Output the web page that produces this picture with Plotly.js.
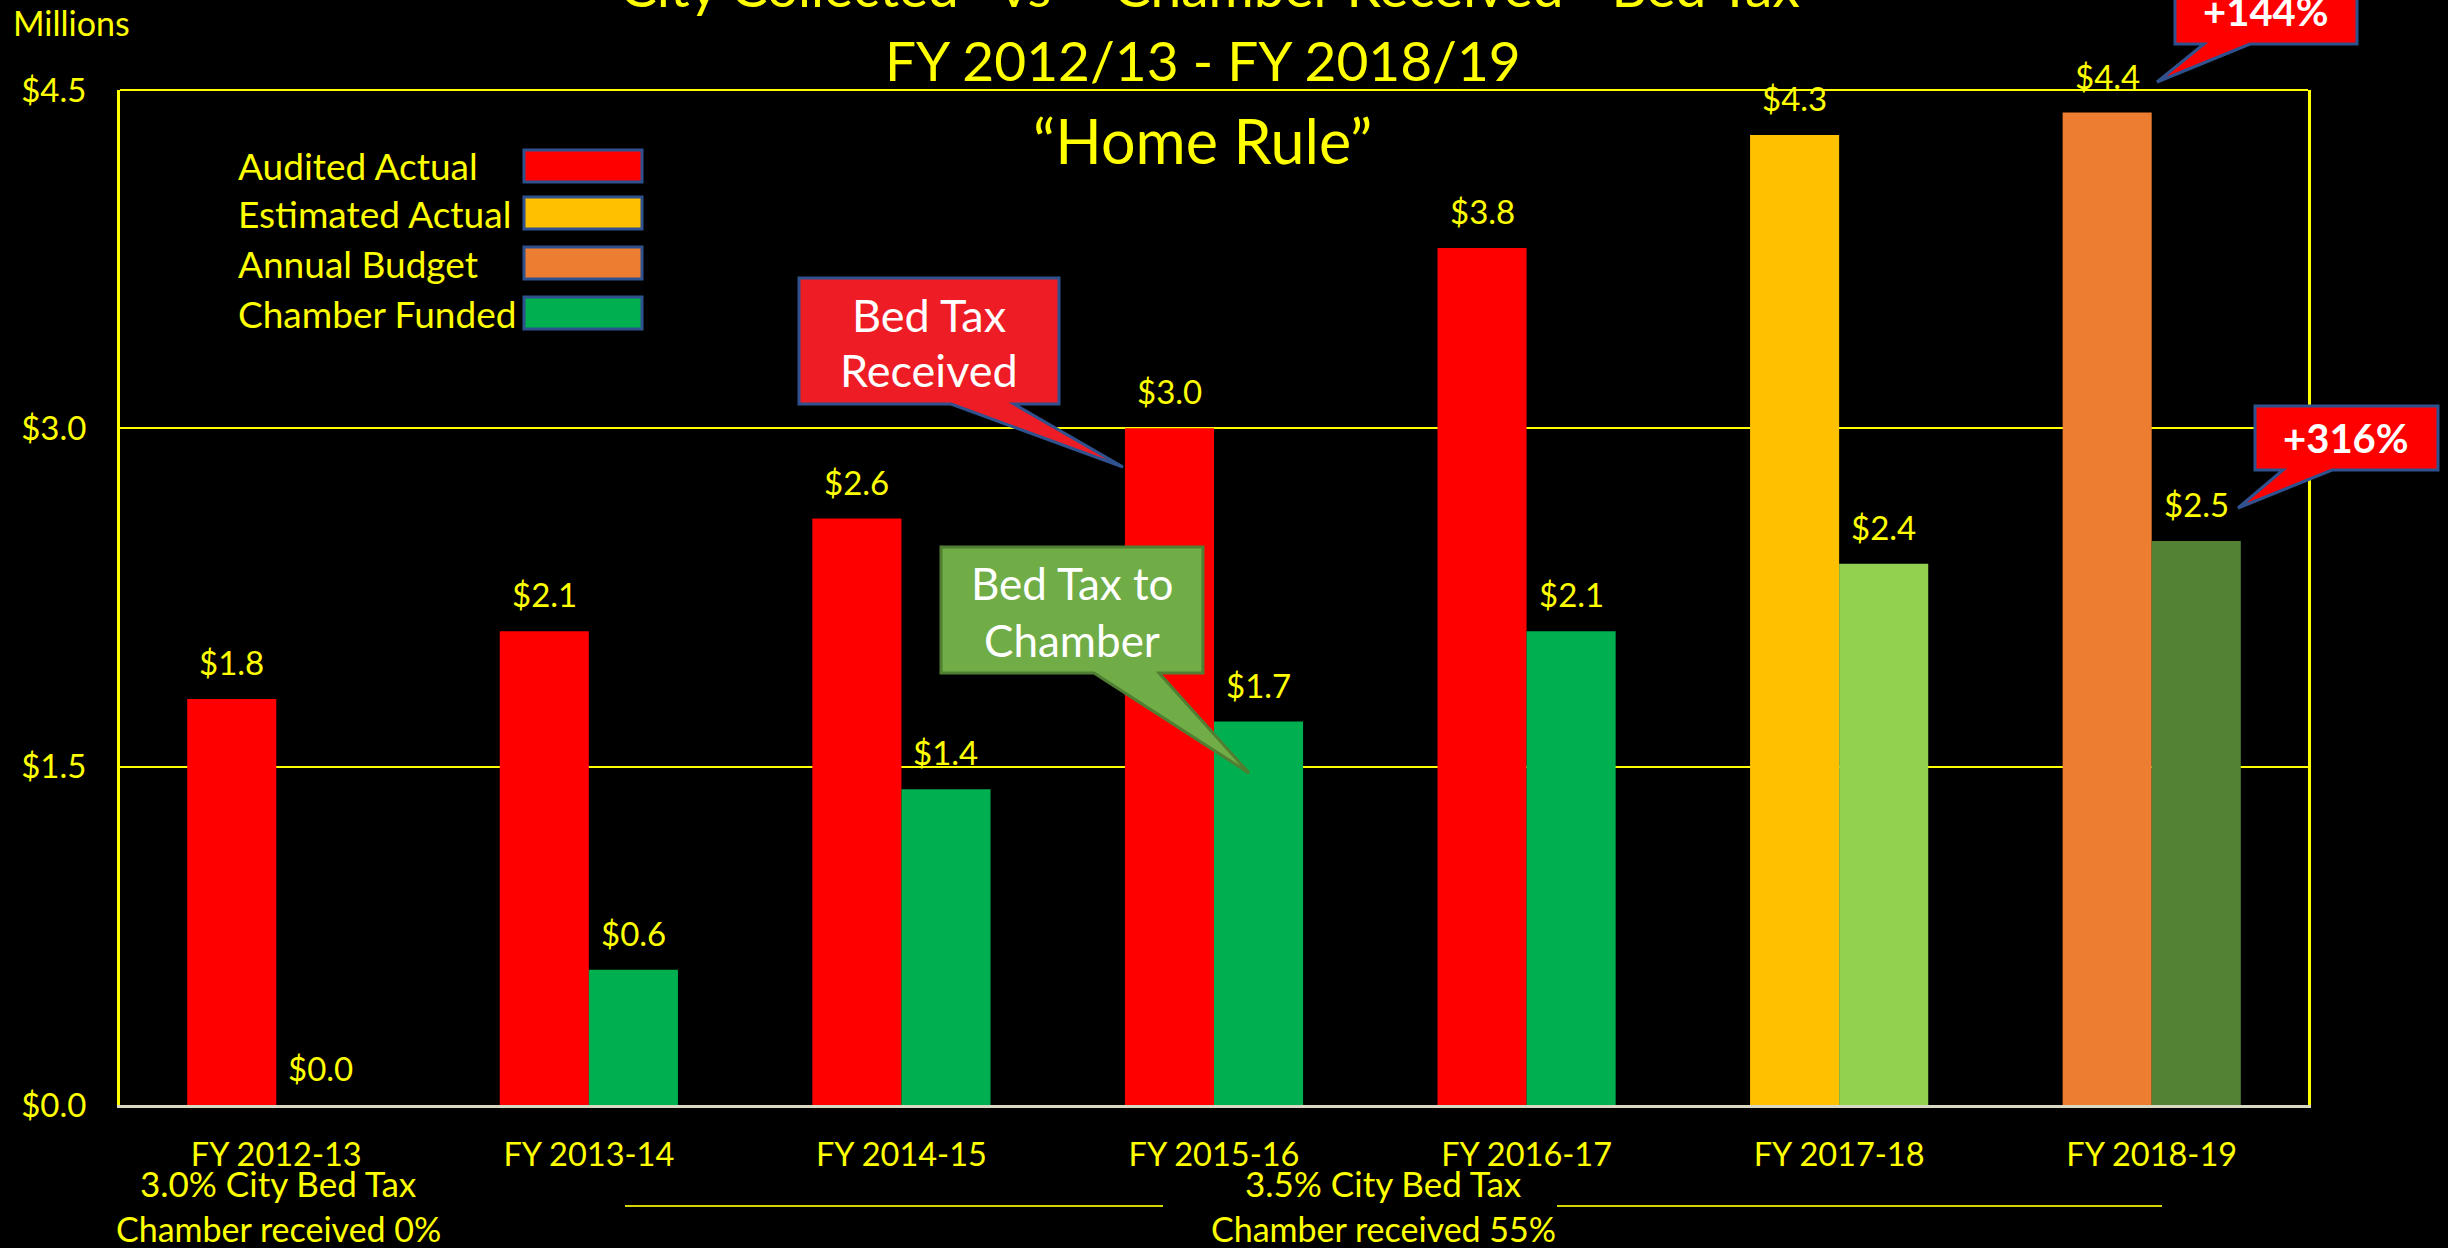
<!DOCTYPE html>
<html>
<head>
<meta charset="utf-8">
<script src="https://cdn.plot.ly/plotly-3.0.1.min.js"></script>
<style>html,body{margin:0;padding:0;background:#000;}#chart{width:2448px;height:1248px;}</style>
</head>
<body>
<div id="chart"></div>
<script>
// ---- data ----
const categories = ["FY 2012-13","FY 2013-14","FY 2014-15","FY 2015-16","FY 2016-17","FY 2017-18","FY 2018-19"];
const bedTaxReceived = [1.8, 2.1, 2.6, 3.0, 3.8, 4.3, 4.4];
const chamberFunded  = [0.0, 0.6, 1.4, 1.7, 2.1, 2.4, 2.5];
const receivedColors = ["#FF0000","#FF0000","#FF0000","#FF0000","#FF0000","#FFC000","#ED7D31"];
const chamberColors  = ["#00B050","#00B050","#00B050","#00B050","#00B050","#92D050","#548235"];
const yTickVals = [0, 1.5, 3.0, 4.5];
const yTickText = ["$0.0","$1.5","$3.0","$4.5"];
const legendNames = ["Audited Actual","Estimated Actual","Annual Budget","Chamber Funded"];
const legendColors = ["#FF0000","#FFC000","#ED7D31","#00B050"];
const titleLine1 = "City Collected   vs   \u201cChamber Received\u201d  Bed Tax";
const titleLine2 = "FY 2012/13 - FY 2018/19";
const subTitle = "\u201cHome Rule\u201d";

// ---- layout helpers (pixel -> paper) ----
const L = 120, R = 2308, T = 90, B = 1105;
const fx = x => (x - L) / (R - L);
const fy = y => (B - y) / (B - T);
const pathPx = pts => 'M' + pts.map(p => fx(p[0]).toFixed(5) + ',' + fy(p[1]).toFixed(5)).join(' L') + ' Z';

const FONT = "Lato, 'Open Sans', sans-serif";
const YEL = "#FFFF00";

const traces = [
  {type:'bar', name:'Bed Tax Received', x:categories, y:bedTaxReceived,
   marker:{color:receivedColors, line:{width:0}}, hoverinfo:'x+y'},
  {type:'bar', name:'Chamber Funded', x:categories, y:chamberFunded,
   marker:{color:chamberColors, line:{width:0}}, hoverinfo:'x+y'}
];

const annotations = [];
const shapes = [];
const BARW = 89;
// data labels
bedTaxReceived.forEach((v,i)=>annotations.push({x:categories[i], y:v, xref:'x', yref:'y', xshift:-BARW/2, yshift:37,
  text:'$'+v.toFixed(1), showarrow:false, font:{family:FONT, size:33, color:YEL}, xanchor:'center', yanchor:'middle'}));
chamberFunded.forEach((v,i)=>annotations.push({x:categories[i], y:v, xref:'x', yref:'y', xshift:BARW/2, yshift:37,
  text:'$'+v.toFixed(1), showarrow:false, font:{family:FONT, size:33, color:YEL}, xanchor:'center', yanchor:'middle'}));

function txt(text, X, Y, size, opts={}) {
  annotations.push(Object.assign({xref:'paper', yref:'paper', x:fx(X), y:fy(Y), text:text, showarrow:false,
    xanchor:'center', yanchor:'middle', font:{family:FONT, size:size, color:YEL}}, opts));
}
// titles
txt(titleLine1, 1210, -14, 55);
txt(titleLine2, 1203, 60, 55);
txt(subTitle, 1202, 140, 61);
txt("Millions", 11, 22, 34, {xanchor:'left'});

// legend
const legRows = [166, 213, 263, 313];
legendNames.forEach((n,i)=>{
  txt(n, 236, legRows[i], 37, {xanchor:'left'});
  shapes.push({type:'rect', xref:'paper', yref:'paper', x0:fx(524), x1:fx(642), y0:fy(legRows[i]-16), y1:fy(legRows[i]+16),
    fillcolor:legendColors[i], line:{color:'#2F528F', width:3}});
});

// bottom notes
txt("3.0% City Bed Tax", 278, 1183, 35);
txt("Chamber received 0%", 278, 1228, 34);
txt("3.5% City Bed Tax", 1383, 1183, 35);
txt("Chamber received 55%", 1383, 1228, 34);
shapes.push({type:'line', xref:'paper', yref:'paper', x0:fx(625), x1:fx(1163), y0:fy(1206), y1:fy(1206), line:{color:'#D4D400', width:2}});
shapes.push({type:'line', xref:'paper', yref:'paper', x0:fx(1557), x1:fx(2162), y0:fy(1206), y1:fy(1206), line:{color:'#D4D400', width:2}});

// top frame line
shapes.push({type:'line', xref:'paper', yref:'paper', x0:0, x1:1, y0:1, y1:1, line:{color:YEL, width:2}});

// callouts
const WH = '#FFFFFF';
shapes.push({type:'path', xref:'paper', yref:'paper', fillcolor:'#EE1C25', line:{color:'#2F528F', width:3},
  path:pathPx([[799,278],[1059,278],[1059,404],[1014,404],[1123,467],[951,404],[799,404]])});
txt("Bed Tax", 929, 315, 45, {font:{family:FONT, size:45, color:WH}});
txt("Received", 929, 370, 45, {font:{family:FONT, size:45, color:WH}});

shapes.push({type:'path', xref:'paper', yref:'paper', fillcolor:'#70AD47', line:{color:'#507E32', width:3},
  path:pathPx([[941,547],[1203,547],[1203,673],[1159,673],[1249,773],[1094,673],[941,673]])});
txt("Bed Tax to", 1072, 583, 44, {font:{family:FONT, size:44, color:WH}});
txt("Chamber", 1072, 640, 44, {font:{family:FONT, size:44, color:WH}});

shapes.push({type:'path', xref:'paper', yref:'paper', fillcolor:'#FF0000', line:{color:'#2F528F', width:3},
  path:pathPx([[2175,-22],[2357,-22],[2357,44],[2250,44],[2157,82],[2204,44],[2175,44]])});
txt("<b>+144%</b>", 2266, 11, 40, {font:{family:FONT, size:40, color:WH}});

shapes.push({type:'path', xref:'paper', yref:'paper', fillcolor:'#FF0000', line:{color:'#2F528F', width:3},
  path:pathPx([[2255,406],[2438,406],[2438,470],[2332,470],[2238,508],[2283,470],[2255,470]])});
txt("<b>+316%</b>", 2346, 438, 40, {font:{family:FONT, size:40, color:WH}});

const layout = {
  width:2448, height:1248,
  margin:{l:L, r:2448-R, t:T, b:1248-B, pad:0},
  paper_bgcolor:'#000000', plot_bgcolor:'#000000',
  barmode:'group', bargap:0.43, bargroupgap:0,
  showlegend:false,
  font:{family:FONT, color:YEL},
  xaxis:{type:'category', tickfont:{family:FONT, size:32.5, color:YEL}, ticks:'', ticklabelstandoff:19,
    showline:true, linecolor:'#D9D9C3', linewidth:3, showgrid:false, zeroline:false, fixedrange:true},
  yaxis:{range:[0,4.5], tickvals:yTickVals, ticktext:yTickText, tickfont:{family:FONT, size:33, color:YEL},
    ticks:'', ticklabelstandoff:24, showline:true, mirror:true, linecolor:YEL, linewidth:3,
    showgrid:true, gridcolor:YEL, gridwidth:2, zeroline:false, fixedrange:true},
  annotations:annotations,
  shapes:shapes
};
Plotly.newPlot('chart', traces, layout, {displayModeBar:false, staticPlot:true});
</script>
</body>
</html>
